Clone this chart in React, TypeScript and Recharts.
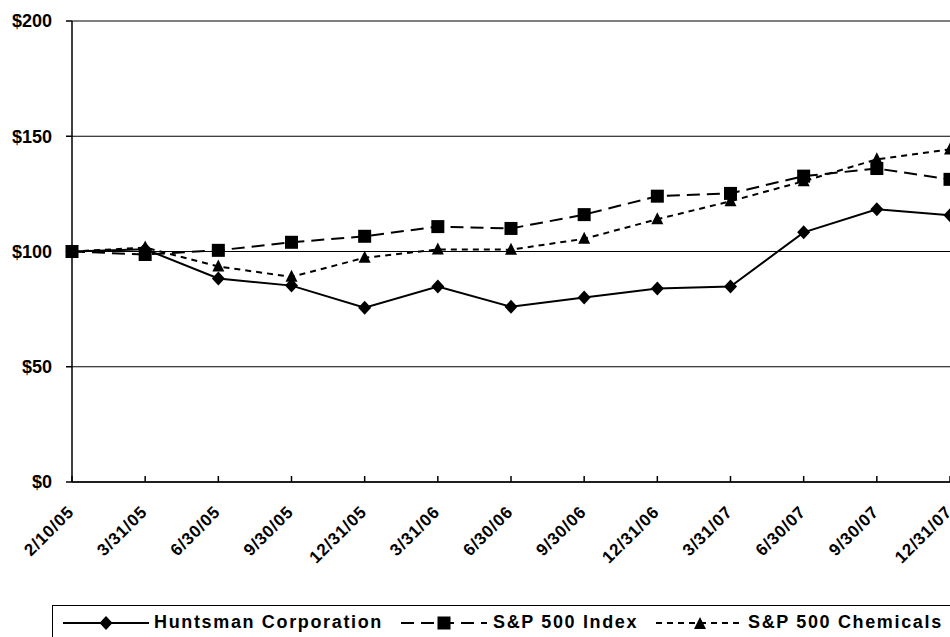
import { LineChart, Line, XAxis, YAxis, CartesianGrid } from 'recharts'

const DATES = [
  '2/10/05', '3/31/05', '6/30/05', '9/30/05', '12/31/05', '3/31/06', '6/30/06',
  '9/30/06', '12/31/06', '3/31/07', '6/30/07', '9/30/07', '12/31/07',
]
const HUNTSMAN = [100, 101, 88.3, 85.2, 75.6, 84.8, 76, 80, 83.9, 84.8, 108.3, 118.3, 115.7]
const SP500 = [100, 98.7, 100.5, 104, 106.6, 110.8, 110, 116, 124, 125.2, 132.7, 136, 131.3]
const SP_CHEM = [100, 101.7, 93.5, 89, 97.3, 100.9, 100.8, 105.5, 114, 121.8, 130.5, 140, 144.3]
const Y_TICKS = [0, 50, 100, 150, 200]

const rows = DATES.map((d, i) => ({
  date: d,
  huntsman: HUNTSMAN[i],
  sp500: SP500[i],
  chem: SP_CHEM[i],
}))

const FONT = '"Liberation Sans", Arial, sans-serif'

function Diamond({ cx, cy }: any) {
  if (cx == null || cy == null) return null
  return <path d={`M${cx},${cy - 7} L${cx + 6.5},${cy} L${cx},${cy + 7} L${cx - 6.5},${cy} Z`} fill="#000" />
}

function Square({ cx, cy }: any) {
  if (cx == null || cy == null) return null
  return <rect x={cx - 6.5} y={cy - 6.5} width={13} height={13} fill="#000" />
}

function Triangle({ cx, cy }: any) {
  if (cx == null || cy == null) return null
  return <path d={`M${cx},${cy - 7} L${cx + 6},${cy + 5} L${cx - 6},${cy + 5} Z`} fill="#000" />
}

function DateTick({ x, y, payload }: any) {
  const ax = x + 3
  const ay = y + 31
  return (
    <g>
      <line x1={x} y1={y} x2={x} y2={y - 6} stroke="#000" strokeWidth={1.5} />
      <text
        x={ax}
        y={ay}
        textAnchor="end"
        transform={`rotate(-45, ${ax}, ${ay})`}
        fontFamily={FONT}
        fontWeight="bold"
        fontSize={17}
        letterSpacing={0.8}
        fill="#000"
      >
        {payload.value}
      </text>
    </g>
  )
}

function LegendIcon({ kind }: { kind: 'diamond' | 'square' | 'triangle' }) {
  const w = kind === 'triangle' ? 88 : 86
  const dash = kind === 'diamond' ? undefined : kind === 'square' ? '13 7' : '6 5'
  const c = w / 2
  return (
    <svg width={w} height={20} style={{ display: 'block' }}>
      <line x1={0} y1={10} x2={w} y2={10} stroke="#000" strokeWidth={2} strokeDasharray={dash} />
      {kind === 'diamond' && <Diamond cx={c} cy={10} />}
      {kind === 'square' && <Square cx={c} cy={10} />}
      {kind === 'triangle' && <Triangle cx={c} cy={11} />}
    </svg>
  )
}

function ChartLegend() {
  const text = {
    fontFamily: FONT,
    fontWeight: 'bold' as const,
    fontSize: 18,
    letterSpacing: 1.65,
    whiteSpace: 'nowrap' as const,
  }
  return (
    <div
      style={{
        position: 'absolute',
        left: 52,
        top: 605,
        width: 920,
        height: 60,
        border: '1.5px solid #000',
        boxSizing: 'border-box',
      }}
    >
      <div style={{ position: 'absolute', left: 10, top: 6, display: 'flex', alignItems: 'center' }}>
        <LegendIcon kind="diamond" />
        <span style={{ ...text, marginLeft: 5 }}>Huntsman Corporation</span>
      </div>
      <div style={{ position: 'absolute', left: 348, top: 6, display: 'flex', alignItems: 'center' }}>
        <LegendIcon kind="square" />
        <span style={{ ...text, marginLeft: 6 }}>S&amp;P 500 Index</span>
      </div>
      <div style={{ position: 'absolute', left: 603, top: 6, display: 'flex', alignItems: 'center' }}>
        <LegendIcon kind="triangle" />
        <span style={{ ...text, marginLeft: 4 }}>S&amp;P 500 Chemicals</span>
      </div>
    </div>
  )
}

export default function App() {
  return (
    <div
      style={{
        position: 'absolute',
        left: 0,
        top: 0,
        width: 950,
        height: 637,
        overflow: 'hidden',
        background: '#fff',
      }}
    >
      <LineChart width={950} height={600} data={rows} margin={{ top: 21, right: 0, bottom: 8, left: 0 }}>
        <CartesianGrid vertical={false} stroke="#000" strokeWidth={1.2} />
        <XAxis
          dataKey="date"
          height={110}
          interval={0}
          tickLine={false}
          tickSize={0}
          tickMargin={0}
          tick={<DateTick />}
          stroke="#000"
          strokeWidth={1.5}
        />
        <YAxis
          width={72}
          domain={[0, 200]}
          ticks={Y_TICKS}
          tickFormatter={(v) => `$${v}`}
          tickSize={6}
          tickMargin={14}
          stroke="#000"
          strokeWidth={1.5}
          tick={{ fontFamily: FONT, fontWeight: 'bold', fontSize: 18, fill: '#000' }}
        />
        <Line
          dataKey="huntsman"
          stroke="#000"
          strokeWidth={2}
          dot={<Diamond />}
          activeDot={false}
          isAnimationActive={false}
        />
        <Line
          dataKey="sp500"
          stroke="#000"
          strokeWidth={2}
          strokeDasharray="13 7"
          dot={<Square />}
          activeDot={false}
          isAnimationActive={false}
        />
        <Line
          dataKey="chem"
          stroke="#000"
          strokeWidth={2}
          strokeDasharray="6 5"
          dot={<Triangle />}
          activeDot={false}
          isAnimationActive={false}
        />
      </LineChart>
      <ChartLegend />
    </div>
  )
}
